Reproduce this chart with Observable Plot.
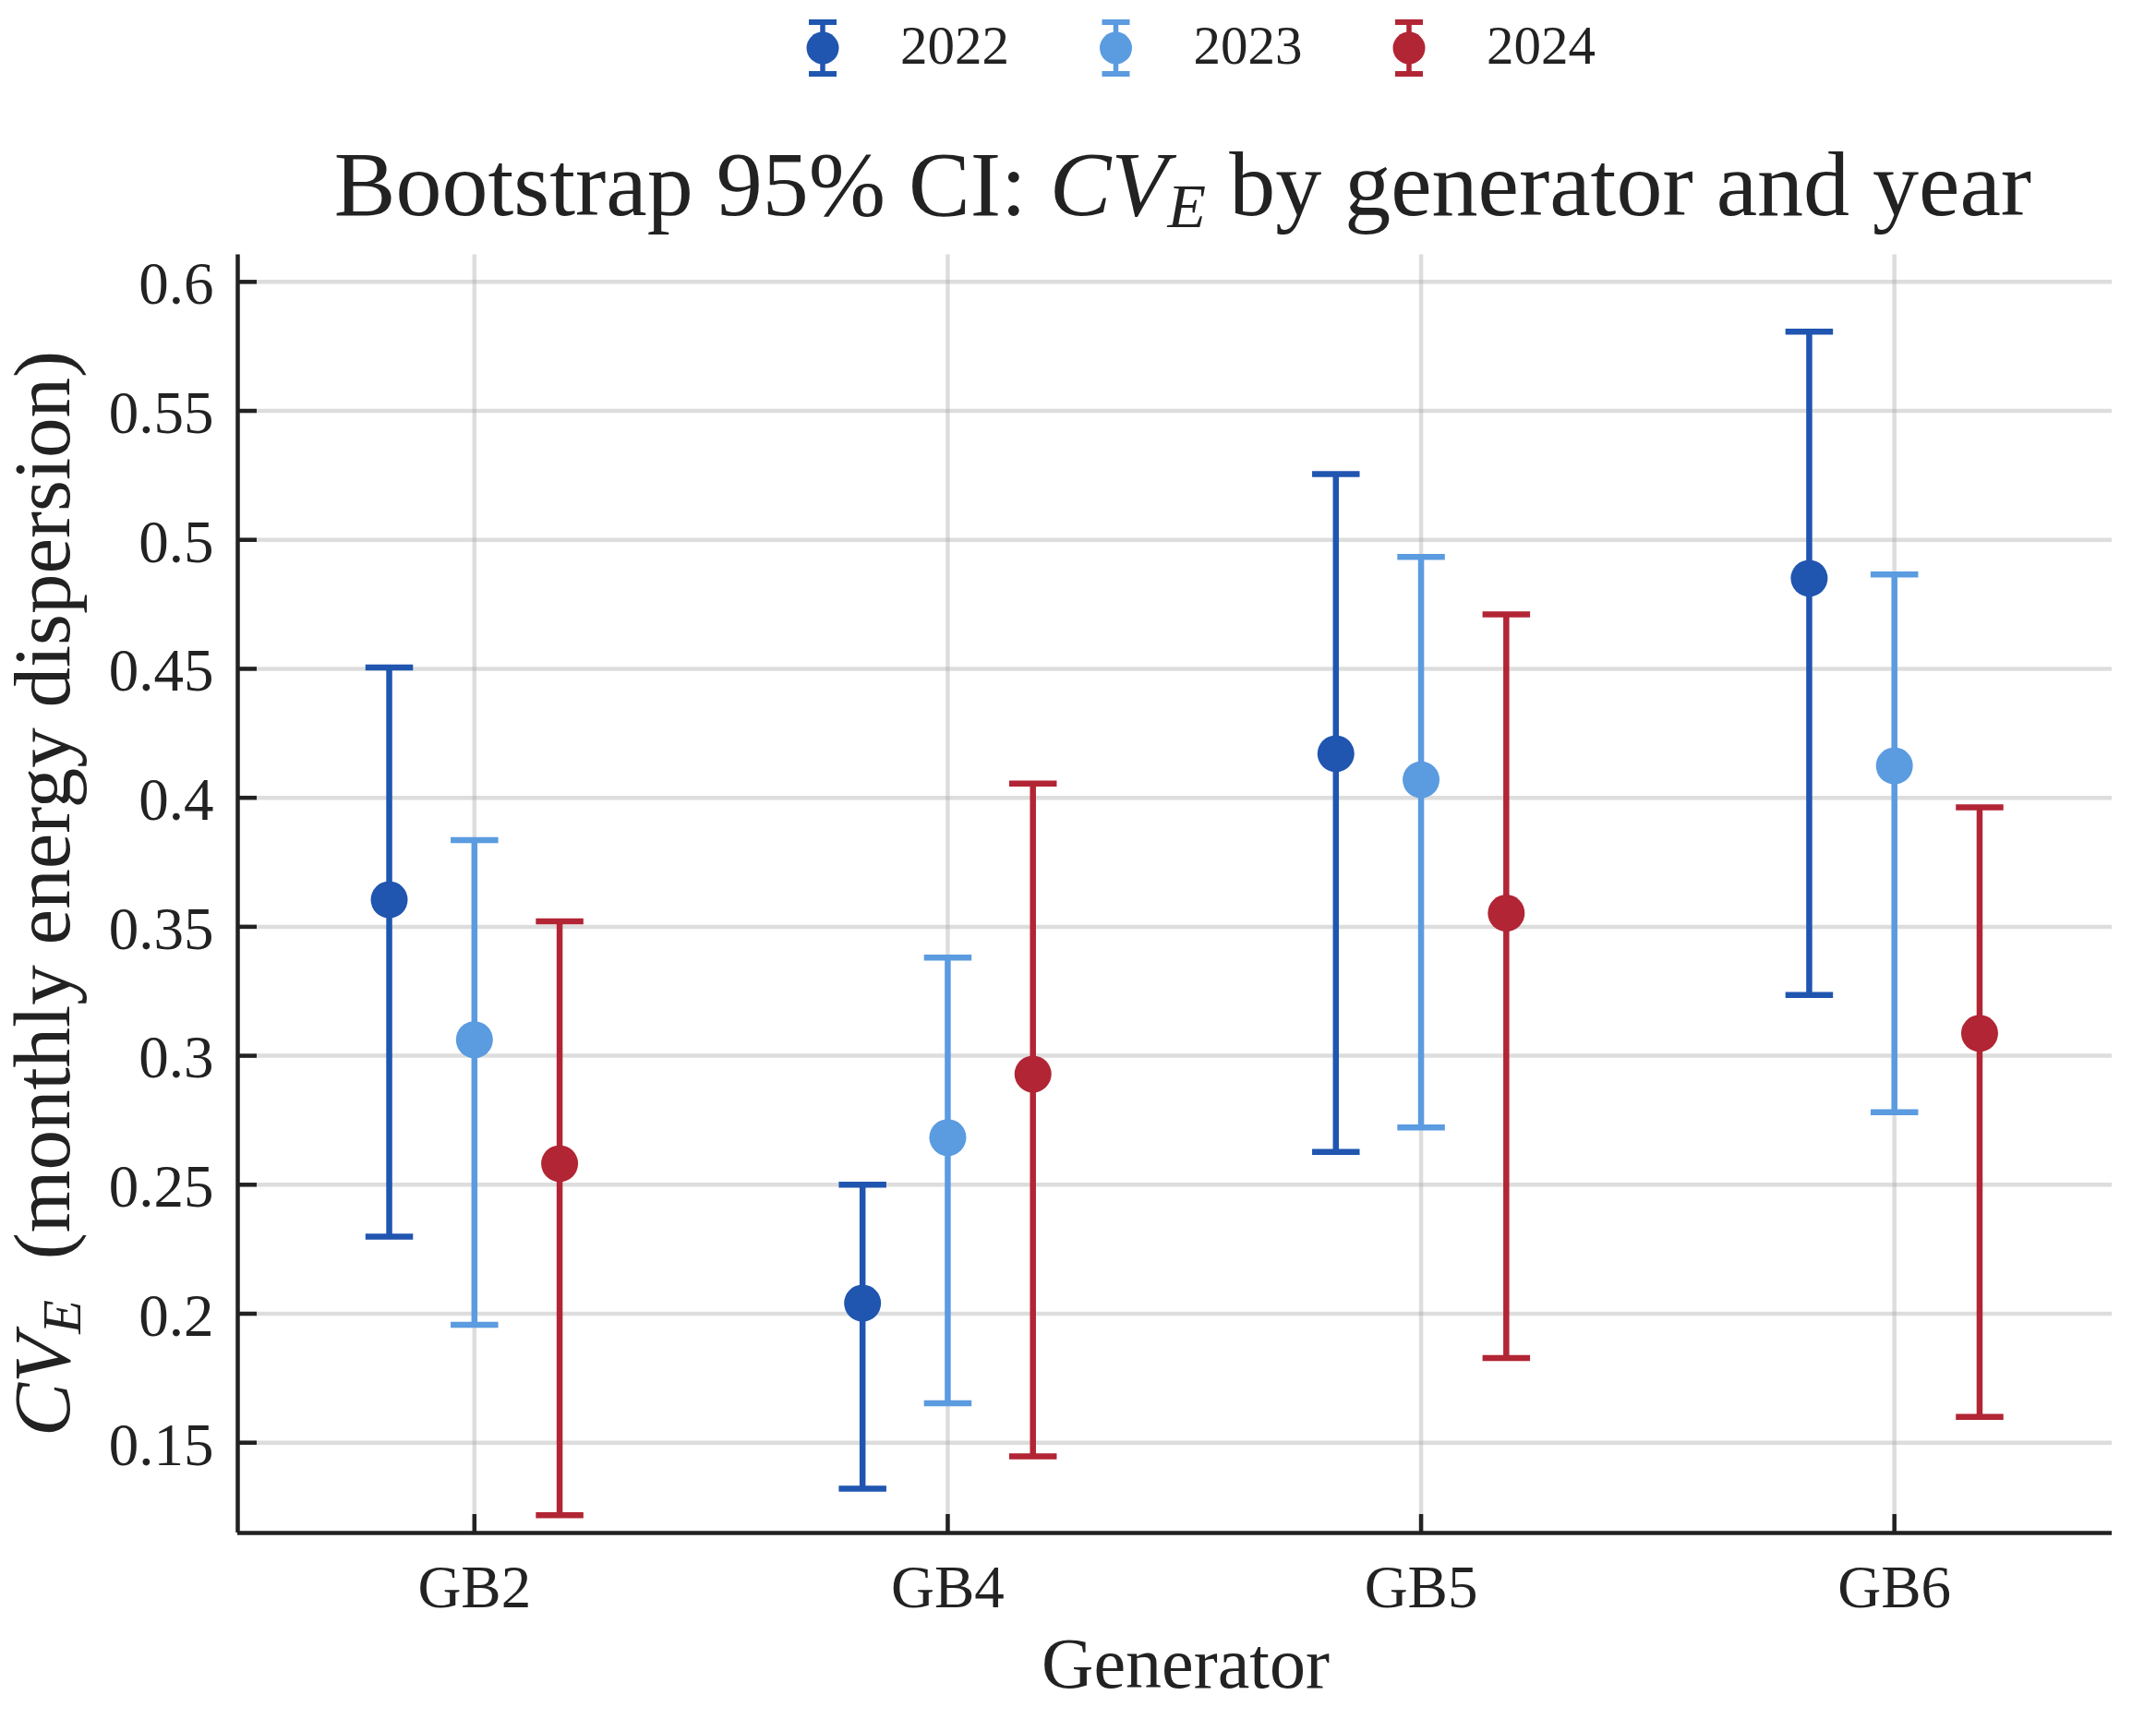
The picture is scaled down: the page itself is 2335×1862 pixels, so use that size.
<!DOCTYPE html>
<html>
<head>
<meta charset="utf-8">
<script src="https://cdn.jsdelivr.net/npm/d3@7"></script>
<script src="https://cdn.jsdelivr.net/npm/@observablehq/plot@0.6"></script>
<style>
  html, body { margin: 0; padding: 0; background: #ffffff; }
  #chart { width: 2335px; }
  #chart svg { display: block; }
</style>
</head>
<body>
<div id="chart"></div>
<script>
// ---------------- data ----------------
const generators = ["GB2", "GB4", "GB5", "GB6"];
const years = ["2022", "2023", "2024"];
const yearColors = ["#2055b0", "#5b9be0", "#b22534"];
const yearOffsets = [-0.18, 0, 0.18];

const cv2022 = [0.3605, 0.2041, 0.4171, 0.4851];
const lo2022 = [0.2299, 0.1322, 0.2627, 0.3236];
const hi2022 = [0.4505, 0.2500, 0.5255, 0.5807];

const cv2023 = [0.3062, 0.2683, 0.4070, 0.4124];
const lo2023 = [0.1957, 0.1653, 0.2722, 0.2781];
const hi2023 = [0.3836, 0.3381, 0.4934, 0.4866];

const cv2024 = [0.2582, 0.2929, 0.3553, 0.3087];
const lo2024 = [0.1219, 0.1447, 0.1828, 0.1600];
const hi2024 = [0.3521, 0.4055, 0.4711, 0.3963];

const yTicks = [0.15, 0.2, 0.25, 0.3, 0.35, 0.4, 0.45, 0.5, 0.55, 0.6];
const xTicks = [0, 1, 2, 3];

const titleText = ["Bootstrap 95% CI: ", "CV", "E", " by generator and year"];
const yLabelText = ["CV", "E", "(monthly energy dispersion)"];
const xLabelText = "Generator";

// ---------------- layout ----------------
const W = 2335, H = 1862;
const headerH = 260;
const plotH = H - headerH;
const mL = 257, mR = 48, mT = 15.5, mB = 202;
const plotW = W - mL - mR;
const plotInnerH = plotH - mT - mB;
const xDomain = [-0.5, 3.46];
const yDomain = [0.115, 0.6105];
const FONT = '"Liberation Serif", "Times New Roman", serif';
const INK = "#222222";

const series = [
  [cv2022, lo2022, hi2022],
  [cv2023, lo2023, hi2023],
  [cv2024, lo2024, hi2024]
];
const rows = [];
years.forEach((yr, yi) => {
  generators.forEach((g, gi) => {
    rows.push({
      generator: g, year: yr, x: gi + yearOffsets[yi],
      cv: series[yi][0][gi], lo: series[yi][1][gi], hi: series[yi][2][gi]
    });
  });
});

const capSymbol = {
  draw(ctx, size) {
    const w = Math.sqrt(size / Math.PI);
    ctx.moveTo(-w, 0);
    ctx.lineTo(w, 0);
  }
};

// ---------------- header (legend + title) ----------------
const header = d3.select("#chart").append("svg")
  .attr("width", W).attr("height", headerH)
  .attr("viewBox", `0 0 ${W} ${headerH}`)
  .style("font-family", FONT);

const legendX0 = 891, legendStep = 317.5, legendCy = 52;
years.forEach((yr, i) => {
  const cx = legendX0 + i * legendStep;
  const g = header.append("g").attr("transform", `translate(${cx},${legendCy})`);
  const c = yearColors[i];
  g.append("line").attr("x1", 0).attr("x2", 0).attr("y1", -28).attr("y2", 28)
    .attr("stroke", c).attr("stroke-width", 5.5);
  g.append("line").attr("x1", -15).attr("x2", 15).attr("y1", -28).attr("y2", -28)
    .attr("stroke", c).attr("stroke-width", 6);
  g.append("line").attr("x1", -15).attr("x2", 15).attr("y1", 28).attr("y2", 28)
    .attr("stroke", c).attr("stroke-width", 6);
  g.append("circle").attr("r", 17.5).attr("fill", c);
  header.append("text")
    .attr("x", cx + 84).attr("y", 69)
    .attr("font-size", 59).attr("fill", INK)
    .text(yr);
});

const title = header.append("text")
  .attr("x", 1281).attr("y", 233)
  .attr("text-anchor", "middle")
  .attr("font-size", 100).attr("fill", INK);
title.append("tspan").text(titleText[0]);
title.append("tspan").attr("font-style", "italic").text(titleText[1]);
title.append("tspan").attr("font-style", "italic").attr("font-size", 68).attr("dy", 13).text(titleText[2]);
title.append("tspan").attr("dy", -13).text(titleText[3]);

// ---------------- plot ----------------
const gridStyle = { stroke: "#aaaaaa", strokeOpacity: 0.4, strokeWidth: 4.5 };

const chart = Plot.plot({
  width: W,
  height: plotH,
  marginLeft: mL,
  marginRight: mR,
  marginTop: mT,
  marginBottom: mB,
  style: { fontFamily: FONT, fontSize: "65px", color: INK, background: "white", overflow: "visible" },
  x: { type: "linear", domain: xDomain },
  y: { type: "linear", domain: yDomain },
  color: { domain: years, range: yearColors },
  marks: [
    Plot.gridY(yTicks, gridStyle),
    Plot.gridX(xTicks, gridStyle),
    Plot.ruleX(rows, { x: "x", y1: "lo", y2: "hi", stroke: "year", strokeWidth: 6.5 }),
    Plot.dot(rows, { x: "x", y: "lo", symbol: capSymbol, r: 25.75, stroke: "year", fill: "none", strokeWidth: 6.5 }),
    Plot.dot(rows, { x: "x", y: "hi", symbol: capSymbol, r: 25.75, stroke: "year", fill: "none", strokeWidth: 6.5 }),
    Plot.dot(rows, { x: "x", y: "cv", r: 20, fill: "year", stroke: null }),
    Plot.tickY(yTicks, { y: d => d, stroke: INK, strokeWidth: 4.5, insetRight: plotW - 21 }),
    Plot.tickX(xTicks, { x: d => d, stroke: INK, strokeWidth: 4.5, insetTop: plotInnerH - 20 }),
    Plot.ruleX([xDomain[0]], { stroke: INK, strokeWidth: 4.5 }),
    Plot.ruleY([yDomain[0]], { stroke: INK, strokeWidth: 4.5 }),
    Plot.axisY(yTicks, { tickSize: 0, tickPadding: 26, fontSize: 65, dy: 3, tickFormat: d => String(+d.toFixed(2)), label: null }),
    Plot.axisX(xTicks, { tickSize: 0, tickPadding: 34, fontSize: 65, tickFormat: i => generators[i], label: null })
  ]
});

document.getElementById("chart").appendChild(chart);

const svg = d3.select(chart);
// y-axis label (rotated, with italic CV and subscript E)
const yl = svg.append("text")
  .attr("transform", `translate(75,${968 - headerH}) rotate(-90)`)
  .attr("text-anchor", "middle")
  .attr("font-size", 87).attr("fill", INK)
  .style("font-family", FONT);
yl.append("tspan").attr("font-style", "italic").text(yLabelText[0]);
yl.append("tspan").attr("font-style", "italic").attr("font-size", 60).attr("dy", 12).text(yLabelText[1]);
yl.append("tspan").attr("dy", -12).attr("dx", 44).text(yLabelText[2]);

// x-axis label
svg.append("text")
  .attr("x", 1284).attr("y", 1828 - headerH)
  .attr("text-anchor", "middle")
  .attr("font-size", 78).attr("fill", INK)
  .style("font-family", FONT)
  .text(xLabelText);
</script>
</body>
</html>
